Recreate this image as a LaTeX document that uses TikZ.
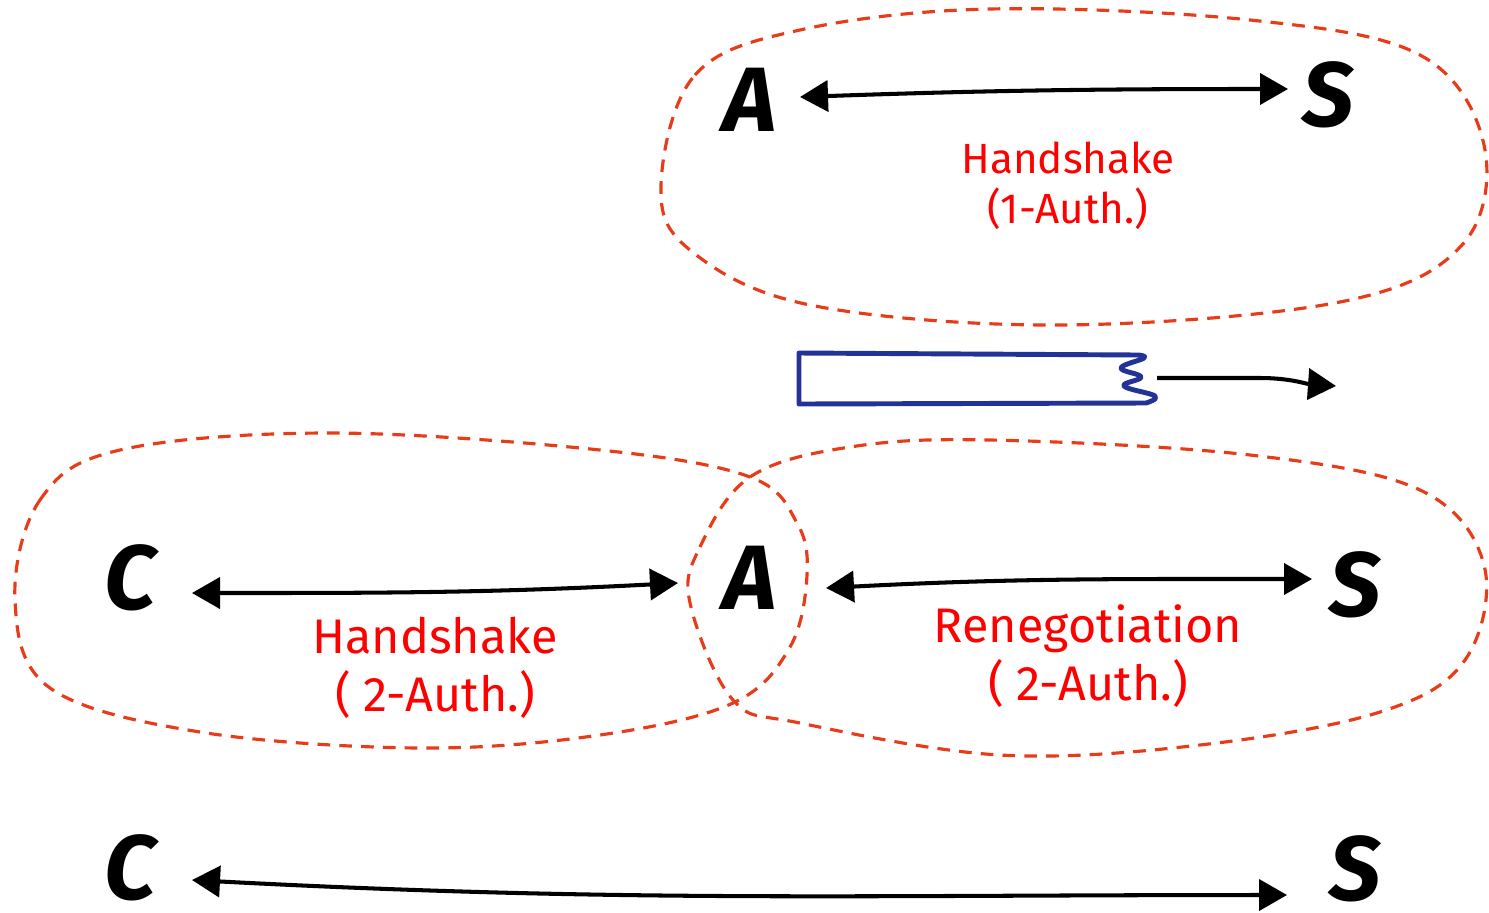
\documentclass[tikz,border=0pt]{standalone}
\usepackage{fontspec}
\setmainfont{Fira Sans}
\usetikzlibrary{arrows.meta,positioning}
\definecolor{hsred}{RGB}{255,0,0}
\definecolor{blobred}{RGB}{232,60,25}
\definecolor{tapeblue}{RGB}{35,50,150}
\tikzset{
  >={Triangle[length=2.8mm,width=3.1mm]},
  party/.style={inner sep=0pt, font=\fontsize{26}{26}\selectfont\itshape\bfseries},
  phase/.style={text=hsred, align=center},
  link/.style={line width=1.15pt, <->},
  blob/.style={blobred, line width=0.9pt, dash pattern=on 3.6pt off 2.6pt},
}

\begin{document}
\begin{tikzpicture}[x=0.01cm,y=-0.01cm]
  \useasboundingbox (0,0) rectangle (1489,912);

  % sessions
  \draw[blob] plot[smooth cycle, tension=0.6] coordinates {
    (661,185) (695,75) (800,30) (990,9) (1250,20) (1420,55) (1484,145)
    (1462,245) (1340,302) (1060,325) (810,305) (690,250)};
  \draw[blob] plot[smooth cycle, tension=0.6] coordinates {
    (15,600) (40,500) (120,450) (330,433) (600,450) (750,477) (797,523)
    (807,575) (790,647) (733,703) (600,735) (420,748) (200,732) (50,688)};
  \draw[blob] plot[smooth cycle, tension=0.6] coordinates {
    (690,603) (700,547) (750,477) (850,447) (990,440) (1250,455) (1420,490)
    (1484,565) (1465,660) (1380,712) (1200,745) (1000,755) (800,723) (733,700)};

  % parties
  \node[party] (a1) at (750,100) {A};
  \node[party] (s1) at (1328,95) {S};
  \node[party] (c2) at (130,578) {C};
  \node[party] (a2) at (750,578) {A};
  \node[party] (s2) at (1355,585) {S};
  \node[party] (c3) at (130,868) {C};
  \node[party] (s3) at (1355,869) {S};

  \node[phase, font=\fontsize{12}{14.2}\selectfont] (hs1) at (1068,186) {Handshake\\(1-Auth.)};
  \node[phase, font=\fontsize{13.8}{16.5}\selectfont] (hs2) at (435,668) {Handshake\\( 2-Auth.)};
  \node[phase, font=\fontsize{13.8}{16.5}\selectfont] (rn) at (1088,656) {Renegotiation\\( 2-Auth.)};

  \draw[link] ([shift={(50,-3)}]a1.center) to[out=2,in=180] ([shift={(-40,-6)}]s1.center);
  \draw[link] ([shift={(62,15)}]c2.center) to[out=0,in=183] ([shift={(-72,5)}]a2.center);
  \draw[link] ([shift={(76,10)}]a2.center) to[out=3,in=180] ([shift={(-43,-6)}]s2.center);
  \draw[link] ([shift={(62,12)}]c3.center) to[out=-3,in=180] ([shift={(-68,26)}]s3.center);

  % record with torn end
  \draw[tapeblue, line width=1.4pt, line join=round]
    (1138,355) -- (799,353) -- (799,404) -- (1146,403)
    -- plot[smooth, tension=0.7] coordinates {(1146,403) (1155,396) (1124,386)
       (1141,377) (1121,368) (1144,358) (1138,355)} -- cycle;
  \coordinate (tapeend) at (1157,378);
  \coordinate (tapetip) at (1336,386);
  \draw[line width=1.15pt, ->] (tapeend) -- (1260,378) to[out=0,in=176] (tapetip);
\end{tikzpicture}
\end{document}
